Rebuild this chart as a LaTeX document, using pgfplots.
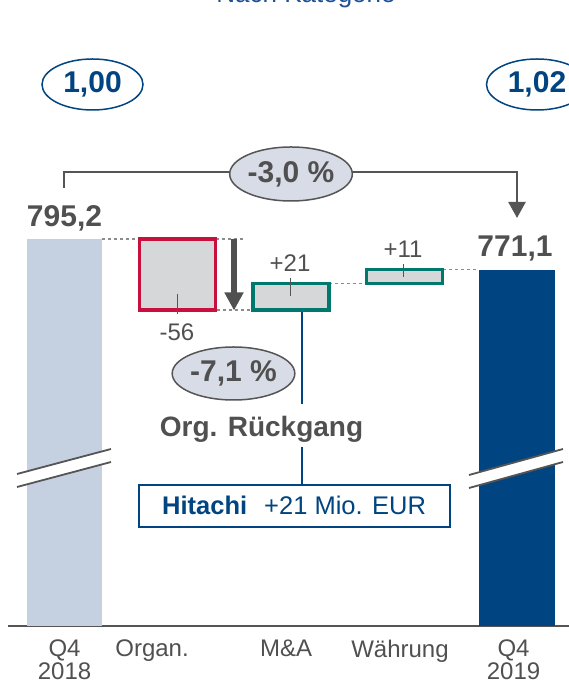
\documentclass[border=0pt]{standalone}
\usepackage{fontspec}
\setmainfont{Liberation Sans}
\usepackage{pgfplots}
\pgfplotsset{compat=1.18}
\usetikzlibrary{shapes.geometric,arrows.meta}
\definecolor{txtgray}{RGB}{80,80,80}
\definecolor{linegray}{RGB}{85,85,85}
\definecolor{dashgray}{RGB}{140,140,140}
\definecolor{bluedark}{RGB}{0,68,129}
\definecolor{lightbar}{RGB}{197,208,224}
\definecolor{boxfill}{RGB}{214,215,217}
\definecolor{redb}{RGB}{200,16,62}
\definecolor{tealb}{RGB}{0,120,110}
\definecolor{ellfill}{RGB}{216,220,230}
\definecolor{titleblue}{RGB}{30,80,150}
\begin{document}
\begin{tikzpicture}
\path[use as bounding box] (0,0) rectangle (568pt,690pt);
\begin{axis}[
  at={(8pt,64pt)}, anchor=south west, scale only axis,
  width=567pt, height=626pt,
  xmin=-0.4991, xmax=4.5088,
  ymin=490, ymax=983.69,
  axis x line=bottom, axis y line=none,
  x axis line style={-, draw=linegray, line width=1.6pt},
  xtick={0,0.773,1.957,2.963,3.966},
  xticklabels={Q4\\2018, Organ., M\&A, Währung, Q4\\2019},
  xticklabel style={align=center, anchor=north, inner sep=0pt, yshift=-14pt,
    font=\fontsize{24}{23}\selectfont, text=txtgray},
  major tick length=0pt, ytick=\empty,
]
% start and end bars
\addplot[ybar, bar shift=0pt, bar width=0.671, fill=lightbar, draw=none]
  coordinates {(0,795.2)};
\addplot[ybar, bar shift=0pt, bar width=0.671, fill=bluedark, draw=none]
  coordinates {(4,771.1)};
% dashed connectors
\addplot[dashgray, dashed, line width=1.3pt] coordinates {(0.331,795.2) (1.577,795.2)};
\addplot[dashgray, dashed, line width=1.3pt] coordinates {(1.347,739.2) (1.656,739.2)};
\addplot[dashgray, dashed, line width=1.3pt] coordinates {(2.336,760.2) (2.646,760.2)};
\addplot[dashgray, dashed, line width=1.3pt] coordinates {(3.344,771.2) (3.653,771.2)};
% floating bars
\addplot[fill=boxfill, draw=redb, line width=3.2pt, line join=miter]
  coordinates {(0.664,739.2) (1.336,739.2) (1.336,795.2) (0.664,795.2)} --cycle;
\addplot[fill=boxfill, draw=tealb, line width=3.2pt, line join=miter]
  coordinates {(1.664,739.2) (2.336,739.2) (2.336,760.2) (1.664,760.2)} --cycle;
\addplot[fill=boxfill, draw=tealb, line width=3.2pt, line join=miter]
  coordinates {(2.664,760.2) (3.336,760.2) (3.336,771.2) (2.664,771.2)} --cycle;
\end{axis}
\begin{scope}[x=1pt,y=-1pt,shift={(0pt,690pt)}]
% title (cut off)
\node[anchor=base, text=titleblue, font=\fontsize{26}{30}\selectfont] at (306,3) {Nach Kategorie};
% top ellipses
\node[ellipse, draw=bluedark, line width=1.5pt, fill=white, minimum width=101pt, minimum height=51pt, inner sep=0pt,
  text=bluedark, font=\bfseries\fontsize{30}{32}\selectfont] at (92.5,84.5) {1,00};
\node[ellipse, draw=bluedark, line width=1.5pt, fill=white, minimum width=101pt, minimum height=51pt, inner sep=0pt,
  text=bluedark, font=\bfseries\fontsize{30}{32}\selectfont] at (537,84.5) {1,02};
% bracket
\draw[linegray, line width=2.4pt, -{Triangle[width=17pt,length=16pt]}]
  (64,188) -- (64,172) -- (517,172) -- (517,218);
\node[ellipse, draw=linegray, line width=1.5pt, fill=ellfill, minimum width=118pt, minimum height=54pt, inner sep=0pt,
  text=txtgray, font=\bfseries\fontsize{30}{32}\selectfont] at (291,174) {-3,0 \%};
% value labels
\node[anchor=base, text=txtgray, font=\bfseries\fontsize{30}{32}\selectfont] at (64.5,227) {795,2};
\node[anchor=base, text=txtgray, font=\bfseries\fontsize{30}{32}\selectfont] at (515,257) {771,1};
\node[anchor=base, text=txtgray, font=\fontsize{24}{26}\selectfont] at (177,341) {-56};
\node[anchor=base, text=txtgray, font=\fontsize{24}{26}\selectfont] at (290,272) {+21};
\node[anchor=base, text=txtgray, font=\fontsize{24}{26}\selectfont] at (403,258) {+11};
% small center ticks
\draw[linegray, line width=0.9pt] (177,294) -- (177,314);
\draw[linegray, line width=0.9pt] (290,278) -- (290,296);
\draw[linegray, line width=0.9pt] (403,264) -- (403,277);
% organic arrow
\draw[txtgray, line width=6pt, -{Triangle[width=18pt,length=18pt]}] (234,239) -- (234,310.5);
% -7,1 %
\node[ellipse, draw=linegray, line width=1.5pt, fill=ellfill, minimum width=119pt, minimum height=53pt, inner sep=0pt,
  text=txtgray, font=\bfseries\fontsize{30}{32}\selectfont] at (233.5,373.5) {-7,1 \%};
% blue connector line
\draw[bluedark, line width=2.2pt] (302,312) -- (302,404);
\draw[bluedark, line width=2.2pt] (302,447) -- (302,485);
\node[anchor=base, text=txtgray, font=\bfseries\fontsize{28}{30}\selectfont] at (261.5,437) {Org. Rückgang};
% Hitachi box
\draw[bluedark, line width=2pt, fill=white] (139,485) rectangle (450,527);
\node[anchor=base west, inner sep=0pt, text=bluedark, font=\bfseries\fontsize{25.5}{28}\selectfont] at (162,515) {Hitachi};
\node[anchor=base west, inner sep=0pt, text=bluedark, font=\fontsize{25.5}{28}\selectfont] at (264,515) {+21 Mio. EUR};
% axis break marks
\fill[white] (17,474) -- (111,449) -- (111,462) -- (17,487) -- cycle;
\draw[linegray, line width=1.8pt] (17,474) -- (111,449);
\draw[linegray, line width=1.8pt] (17,487) -- (111,462);
\fill[white] (469,475) -- (563,449) -- (563,462) -- (469,488) -- cycle;
\draw[linegray, line width=1.8pt] (469,475) -- (563,449);
\draw[linegray, line width=1.8pt] (469,488) -- (563,462);
\end{scope}
\end{tikzpicture}
\end{document}
